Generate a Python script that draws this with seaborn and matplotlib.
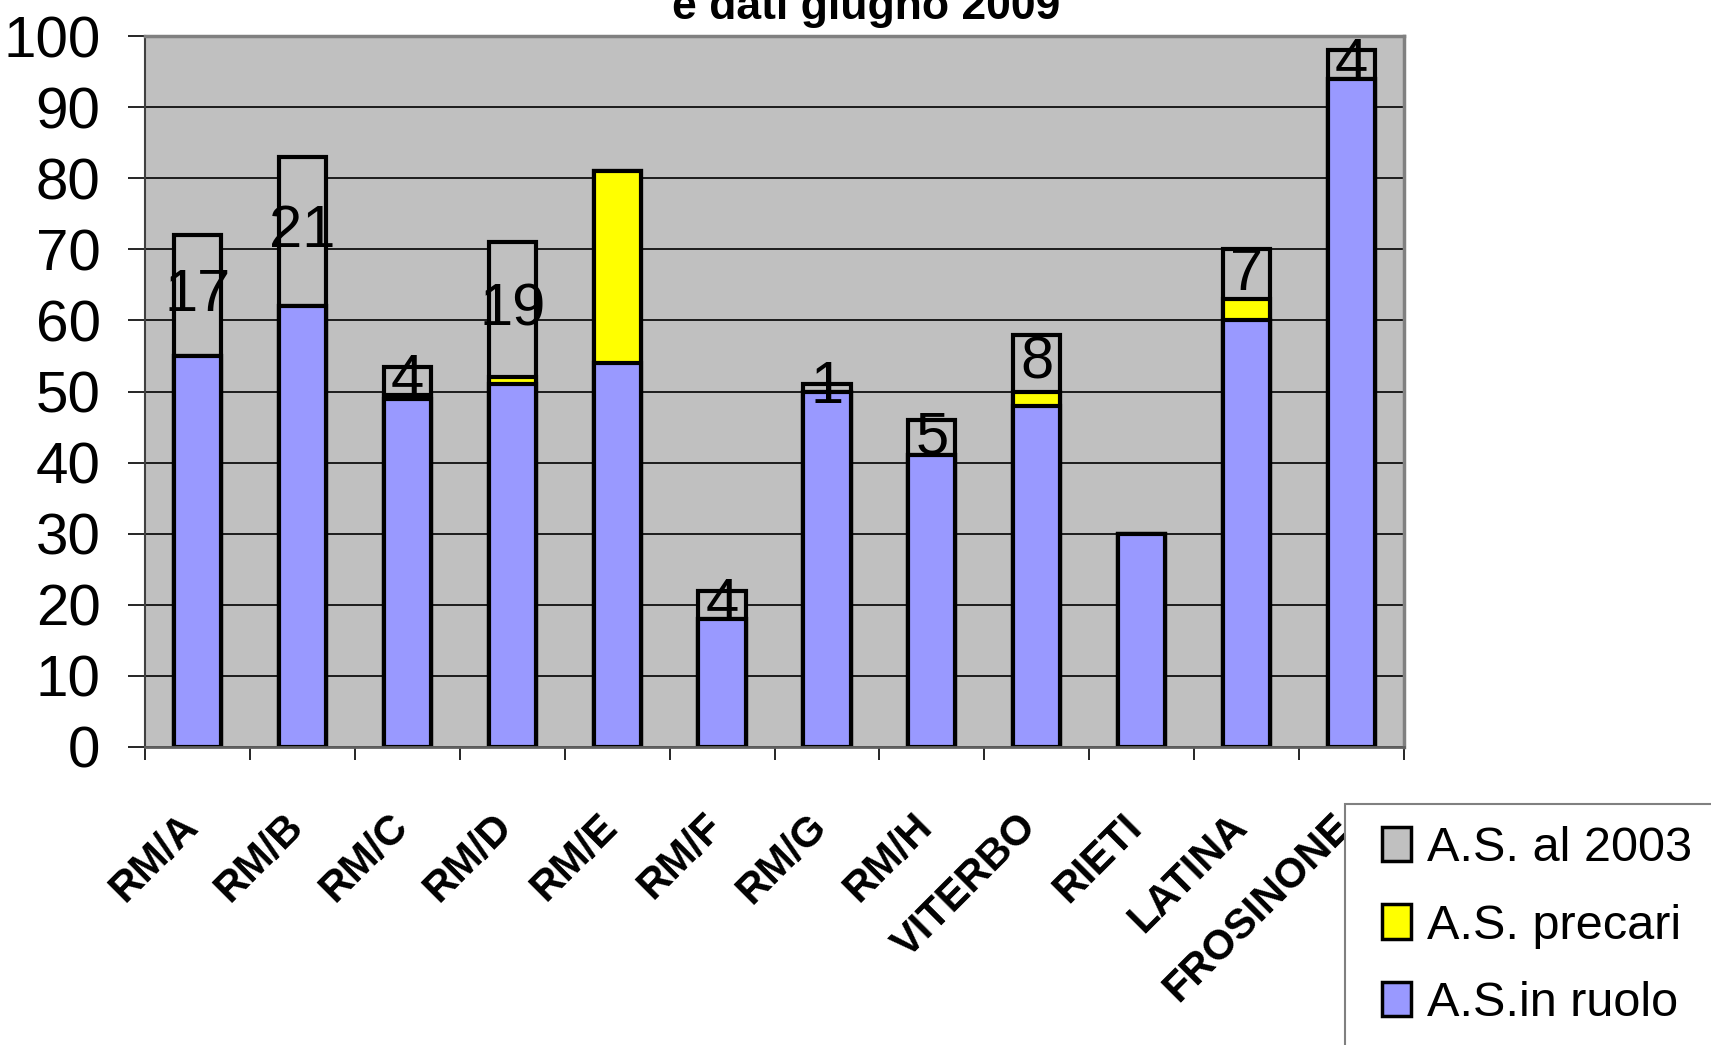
import matplotlib
matplotlib.use("Agg")
import matplotlib.pyplot as plt
from matplotlib.patches import Patch, Rectangle
from matplotlib.transforms import ScaledTranslation
import pandas as pd
import seaborn as sns

# Districts / provinces
categories = ["RM/A", "RM/B", "RM/C", "RM/D", "RM/E", "RM/F", "RM/G", "RM/H",
              "VITERBO", "RIETI", "LATINA", "FROSINONE"]
# Stacked series (bottom to top)
in_ruolo = [55, 62, 49, 51, 54, 18, 50, 41, 48, 30, 60, 94]
precari = [0, 0, 0.5, 1, 27, 0, 0, 0, 2, 0, 3, 0]
al_2003 = [17, 21, 4, 19, 0, 4, 1, 5, 8, 0, 7, 4]

series_names = ["A.S. al 2003", "A.S. precari", "A.S.in ruolo"]
series_colors = ["#C0C0C0", "#FFFF00", "#9999FF"]
y_ticks = list(range(0, 101, 10))
title_line = "e dati giugno 2009"

sns.set_style("white")
plt.rcParams["font.family"] = ["Liberation Sans", "DejaVu Sans"]
for key in ["text.color", "axes.labelcolor", "xtick.color", "ytick.color"]:
    plt.rcParams[key] = "black"

df = pd.DataFrame({
    "zona": categories,
    "ruolo": in_ruolo,
    "precari": precari,
    "al2003": al_2003,
})
df["top_precari"] = df["ruolo"] + df["precari"]
df["top_all"] = df["top_precari"] + df["al2003"]

W, H = 1711, 1045
fig = plt.figure(figsize=(W / 100, H / 100), dpi=100)
ax = fig.add_axes([145 / W, 1 - 747 / H, (1404 - 145) / W, (747 - 36) / H])
ax.set_facecolor("#C0C0C0")

bar_kw = dict(width=0.45, edgecolor="black", linewidth=3.0, saturation=1,
              errorbar=None, order=categories, ax=ax, zorder=3)
# cumulative layers drawn back to front
sns.barplot(data=df, x="zona", y="top_all", color=series_colors[0], **bar_kw)
sns.barplot(data=df, x="zona", y="top_precari", color=series_colors[1], **bar_kw)
sns.barplot(data=df, x="zona", y="ruolo", color=series_colors[2], **bar_kw)

# value labels in the "al 2003" segment
for i, row in df.iterrows():
    if row["al2003"] > 0:
        ax.text(i, row["top_precari"] + row["al2003"] / 2, f"{row['al2003']:g}",
                ha="center", va="center", fontsize=43, color="black", zorder=5)

ax.set_xlim(-0.5, len(categories) - 0.5)
ax.set_ylim(0, 100)
ax.set_yticks(y_ticks)
ax.set_yticklabels([str(t) for t in y_ticks], fontsize=42)
ax.tick_params(axis="y", length=12, width=1.2, color="black", labelcolor="black",
               pad=20, left=True)
ax.yaxis.grid(True, color="black", linewidth=1.2)
ax.set_axisbelow(True)

ax.set_xticks(range(len(categories)))
ax.set_xticklabels(categories, rotation=45, ha="right", va="top",
                   rotation_mode="anchor", fontsize=30, fontweight="bold")
ax.tick_params(axis="x", which="major", length=0, pad=43, labelcolor="black")
shift = ScaledTranslation(-0.2, 0, fig.dpi_scale_trans)
for lbl in ax.get_xticklabels():
    lbl.set_transform(lbl.get_transform() + shift)
ax.set_xticks([i - 0.5 for i in range(len(categories) + 1)], minor=True)
ax.tick_params(axis="x", which="minor", length=9.5, width=1.2, color="black", bottom=True)
ax.set_xlabel("")
ax.set_ylabel("")

for side in ["top", "right"]:
    ax.spines[side].set_color("#808080")
    ax.spines[side].set_linewidth(2.5)
ax.spines["left"].set_color("#404040")
ax.spines["left"].set_linewidth(1.5)
ax.spines["bottom"].set_color("#606060")
ax.spines["bottom"].set_linewidth(2)
for s in ax.spines.values():
    s.set_zorder(6)

fig.text(866 / W, 1 - 19 / H, title_line, ha="center", va="baseline",
         fontsize=32, fontweight="bold", color="black")

# legend box
fig.patches.append(Rectangle((1345 / W, -0.05), 0.3, 0.05 + (1 - 804 / H),
                             transform=fig.transFigure, facecolor="white",
                             edgecolor="#808080", linewidth=1.5, zorder=1))
handles = [Patch(facecolor=c, edgecolor="black", linewidth=2.5) for c in series_colors]
fig.legend(handles, series_names, loc="upper left",
           bbox_to_anchor=(1382 / W, 1 - 826 / H), frameon=False,
           fontsize=35, borderpad=0, borderaxespad=0, handlelength=0.6,
           handleheight=0.72, handletextpad=0.33, labelspacing=0.67,
           labelcolor="black")

fig.savefig("out.png", dpi=100)
